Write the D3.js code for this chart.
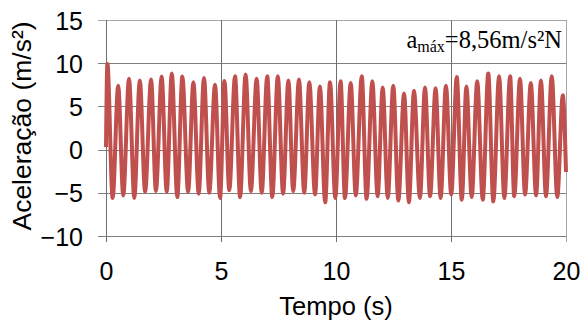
<!DOCTYPE html>
<html>
<head>
<meta charset="utf-8">
<script src="https://cdn.jsdelivr.net/npm/d3@7"></script>
<style>
  html, body { margin: 0; padding: 0; background: #fff; }
  svg { display: block; }
</style>
</head>
<body>
<svg id="chart" width="583" height="326"></svg>
<script>
// Tick values
const xTicks = [0, 5, 10, 15, 20];
const yTicks = [-10, -5, 0, 5, 10, 15];

// Turning points of the acceleration record (time in s)
const peakTimes = [0.06,0.53,1.00,1.47,1.96,2.42,2.86,3.32,3.80,4.26,4.74,5.15,5.61,6.07,6.55,7.01,7.47,7.93,8.39,8.84,9.30,9.74,10.20,10.64,11.12,11.58,12.03,12.49,12.96,13.39,13.87,14.33,14.78,15.25,15.67,16.14,16.62,17.09,17.57,18.00,18.47,18.91,19.38,19.86];
const peakValues = [9.9,7.4,8.2,8.0,8.1,8.45,8.8,8.45,7.8,8.3,7.5,7.95,8.5,8.7,8.2,8.5,8.5,8.0,8.1,7.8,7.3,7.8,7.9,7.7,8.5,7.9,7.2,7.4,6.5,6.8,7.2,7.1,7.4,8.4,7.3,7.9,8.8,8.5,8.5,8.2,7.7,8.0,8.5,6.3];
const troughTimes = [0.29,0.75,1.23,1.70,2.17,2.64,3.10,3.57,4.03,4.49,4.96,5.36,5.83,6.30,6.77,7.23,7.70,8.14,8.62,9.09,9.53,9.97,10.39,10.86,11.33,11.81,12.25,12.71,13.17,13.65,14.09,14.55,15.01,15.47,15.90,16.38,16.84,17.32,17.75,18.22,18.70,19.13,19.62];
const troughValues = [-5.6,-5.3,-5.6,-4.9,-4.8,-4.9,-5.5,-4.9,-5.1,-5.0,-5.6,-4.7,-5.5,-4.8,-5.0,-5.5,-5.1,-4.8,-5.0,-5.2,-6.1,-5.6,-5.6,-5.3,-5.7,-5.4,-5.6,-5.9,-6.1,-5.6,-5.4,-5.6,-5.2,-5.8,-5.5,-5.8,-6.0,-5.6,-5.4,-5.2,-5.3,-5.4,-5.5];
const startPoint = [0, 0.3];
const endPoint = [20, -2.6];

const xLabel = "Tempo (s)";
const yLabel = "Aceleração (m/s²)";

// Build series
const series = [ {t: startPoint[0], a: startPoint[1]} ];
for (let i = 0; i < peakTimes.length; i++) {
  series.push({t: peakTimes[i], a: peakValues[i]});
  if (i < troughTimes.length) series.push({t: troughTimes[i], a: troughValues[i]});
}
series.push({t: endPoint[0], a: endPoint[1]});

const svg = d3.select("#chart");
const pLeft = 106, pRight = 566, pTop = 20, pBottom = 236;

const x = d3.scaleLinear().domain([0, 20]).range([pLeft, pRight]);
const y = d3.scaleLinear().domain([-10, 15]).range([pBottom, pTop]);

const font = "'Liberation Sans', Arial, sans-serif";

// Grid lines
const grid = svg.append("g");
grid.selectAll("line.h").data(yTicks).enter().append("line")
  .attr("x1", pLeft - 8).attr("x2", pRight)
  .attr("y1", d => Math.round(y(d)) + 0.5).attr("y2", d => Math.round(y(d)) + 0.5)
  .attr("stroke", d => d === 15 ? "#a6a6a6" : "#7f7f7f")
  .attr("stroke-width", 1);
grid.selectAll("line.v").data(xTicks).enter().append("line")
  .attr("y1", pTop).attr("y2", pBottom + 6)
  .attr("x1", d => Math.round(x(d)) + 0.5).attr("x2", d => Math.round(x(d)) + 0.5)
  .attr("stroke", d => d === 20 ? "#a6a6a6" : "#6f6f6f")
  .attr("stroke-width", 1);

// Data line
const line = d3.line()
  .x(d => x(d.t))
  .y(d => y(d.a))
  .curve(d3.curveMonotoneX);

svg.append("path")
  .datum(series)
  .attr("d", line)
  .attr("fill", "none")
  .attr("stroke", "#c0504d")
  .attr("stroke-width", 4)
  .attr("stroke-linejoin", "round");

// Axes labels
const yAxis = d3.axisLeft(y).tickValues(yTicks).tickSize(0).tickPadding(0);
const yg = svg.append("g").attr("transform", `translate(${pLeft - 23},0)`).call(yAxis);
yg.select(".domain").remove();
yg.selectAll("text").attr("font-family", font).attr("font-size", 25).attr("fill", "#000").attr("dy", "0.36em");

const xAxis = d3.axisBottom(x).tickValues(xTicks).tickSize(0).tickPadding(0);
const xg = svg.append("g").attr("transform", `translate(0,280)`).call(xAxis);
xg.select(".domain").remove();
xg.selectAll("text").attr("font-family", font).attr("font-size", 25).attr("fill", "#000").attr("dy", "0");

// Axis titles
svg.append("text")
  .attr("x", (pLeft + pRight) / 2).attr("y", 315)
  .attr("text-anchor", "middle")
  .attr("font-family", font).attr("font-size", 25.5).attr("fill", "#000")
  .text(xLabel);

svg.append("text")
  .attr("transform", `translate(31,126) rotate(-90)`)
  .attr("text-anchor", "middle")
  .attr("font-family", font).attr("font-size", 26.5).attr("fill", "#000")
  .text(yLabel);

// Annotation
const ann = svg.append("text")
  .attr("x", 562).attr("y", 48)
  .attr("text-anchor", "end")
  .attr("font-family", "'Liberation Serif', 'Times New Roman', serif")
  .attr("font-size", 24.5).attr("fill", "#000");
ann.append("tspan").text("a");
ann.append("tspan").attr("font-size", 16).attr("dy", 4).text("máx");
ann.append("tspan").attr("dy", -4).text("=8,56m/s²N");
</script>
</body>
</html>
